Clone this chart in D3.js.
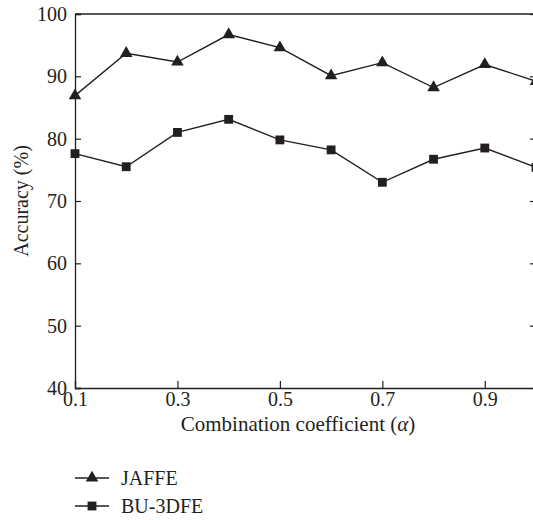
<!DOCTYPE html>
<html>
<head>
<meta charset="utf-8">
<script src="https://cdn.jsdelivr.net/npm/d3@7"></script>
<style>
  body { margin: 0; background: #fff; }
  svg { display: block; }
  svg text { font-family: "Liberation Serif", "Times New Roman", "DejaVu Serif", serif !important; fill: #231f20; }
</style>
</head>
<body>
<script>
// chart size
const w = 533;
const h = 520;

// data
var alphas = [0.1, 0.2, 0.3, 0.4, 0.5, 0.6, 0.7, 0.8, 0.9, 1.0];
var jaffe = [86.9, 93.7, 92.3, 96.7, 94.6, 90.1, 92.2, 88.2, 91.9, 89.2];
var bu3dfe = [77.6, 75.5, 81.0, 83.1, 79.8, 78.2, 73.0, 76.7, 78.5, 75.4];
var xTicks = [0.1, 0.3, 0.5, 0.7, 0.9];
var yTicks = [40, 50, 60, 70, 80, 90, 100];
var seriesNames = ["JAFFE", "BU-3DFE"];

const ink = "#231f20";
const padL = 75, padR = 536, padT = 14, padB = 388;

const svg = d3.select("body")
            .append("svg")
            .attr("width", w)
            .attr("height", h);

var xScale = d3.scaleLinear().domain([0.1, 1.0]).range([padL, padR]);
var yScale = d3.scaleLinear().domain([40, 100]).range([padB, padT]);

// frame lines (top and right)
svg.append("line")
    .attr("x1", padL).attr("x2", padR)
    .attr("y1", padT).attr("y2", padT)
    .attr("stroke", ink).attr("stroke-width", 1.3);
svg.append("line")
    .attr("x1", padR).attr("x2", padR)
    .attr("y1", padT).attr("y2", padB)
    .attr("stroke", ink).attr("stroke-width", 1.3);

// right-side inner ticks
svg.append("g")
    .attr("transform", "translate(" + padR + ",0)")
    .call(d3.axisRight(yScale).tickValues(yTicks).tickSize(-6).tickFormat(""))
    .call(g => g.select(".domain").remove())
    .call(g => g.selectAll("line").attr("stroke", ink).attr("stroke-width", 1.2));

// bottom axis
svg.append("g")
    .attr("transform", "translate(0," + padB + ")")
    .call(d3.axisBottom(xScale).tickValues(xTicks).tickSize(-7).tickPadding(4).tickFormat(d3.format(".1f")))
    .call(g => g.attr("font-family", null))
    .call(g => g.select(".domain").attr("stroke", ink).attr("stroke-width", 1.3))
    .call(g => g.selectAll("line").attr("stroke", ink).attr("stroke-width", 1.2))
    .call(g => g.selectAll("text")
        .attr("font-size", "20px")
        .attr("fill", ink));

// left axis
svg.append("g")
    .attr("transform", "translate(" + padL + ",0)")
    .call(d3.axisLeft(yScale).tickValues(yTicks).tickSize(-6).tickPadding(8))
    .call(g => g.attr("font-family", null))
    .call(g => g.select(".domain").attr("stroke", ink).attr("stroke-width", 1.3))
    .call(g => g.selectAll("line").attr("stroke", ink).attr("stroke-width", 1.2))
    .call(g => g.selectAll("text")
        .attr("font-size", "20px")
        .attr("fill", ink));

// axis titles
svg.append("text")
    .attr("x", 298)
    .attr("y", 431)
    .attr("text-anchor", "middle")
    .attr("font-size", "21px")
    .html("Combination coefficient (<tspan font-style='italic'>α</tspan>)");

svg.append("text")
    .attr("transform", "translate(28," + ((padT + padB) / 2) + ") rotate(-90)")
    .attr("text-anchor", "middle")
    .attr("font-size", "20px")
    .text("Accuracy (%)");

// lines and markers
var line = d3.line()
    .x((d, i) => xScale(alphas[i]))
    .y((d) => yScale(d));

var triangle = d3.symbol().type(d3.symbolTriangle).size(68);
var square = d3.symbol().type(d3.symbolSquare).size(78);

function drawSeries(values, sym) {
    svg.append("path")
        .datum(values)
        .attr("d", line)
        .attr("fill", "none")
        .attr("stroke", ink)
        .attr("stroke-width", 1.4);

    svg.append("g").selectAll("path")
        .data(values)
        .join("path")
        .attr("d", sym)
        .attr("transform", (d, i) => "translate(" + xScale(alphas[i]) + "," + yScale(d) + ")")
        .attr("fill", ink);
}

drawSeries(jaffe, triangle);
drawSeries(bu3dfe, square);

// legend
var legend = svg.append("g");
var legendSyms = [triangle, square];
seriesNames.forEach(function(name, i) {
    var ly = 478 + i * 28;
    legend.append("line")
        .attr("x1", 75).attr("x2", 109)
        .attr("y1", ly).attr("y2", ly)
        .attr("stroke", ink).attr("stroke-width", 1.4);
    legend.append("path")
        .attr("d", legendSyms[i])
        .attr("transform", "translate(92," + ly + ")")
        .attr("fill", ink);
    legend.append("text")
        .attr("x", 121)
        .attr("y", ly + 7)
        .attr("font-size", "20px")
        .text(name);
});
</script>
</body>
</html>
